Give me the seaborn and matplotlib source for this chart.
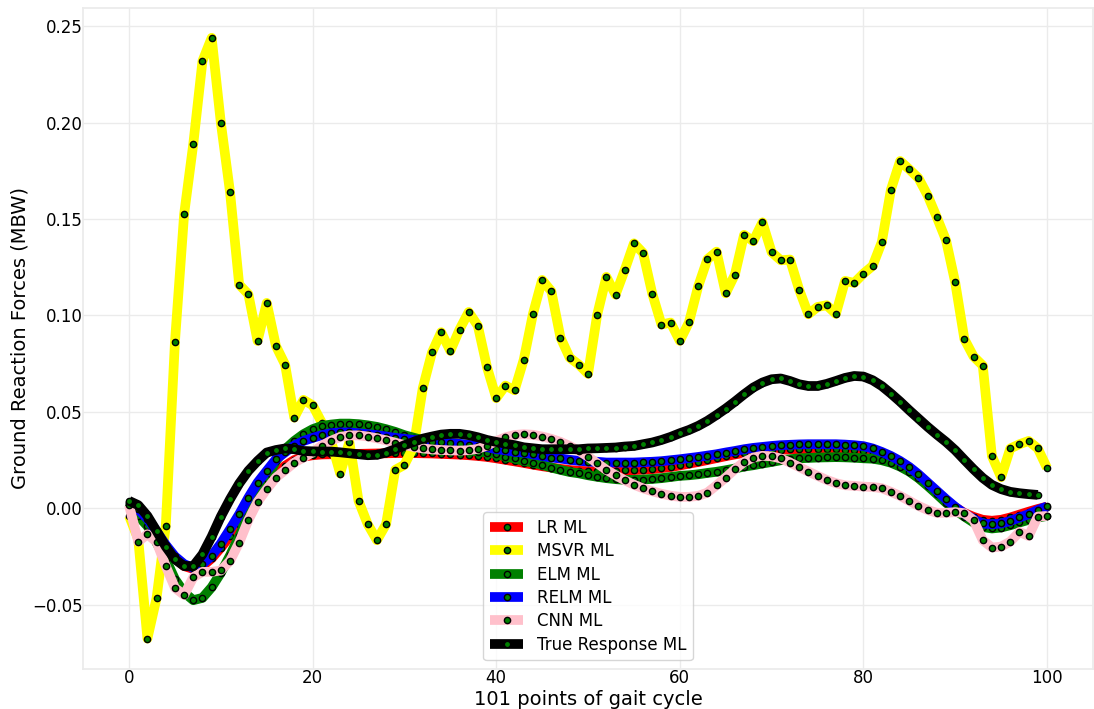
import numpy as np
import pandas as pd
import matplotlib
matplotlib.use("Agg")
import matplotlib.pyplot as plt
import seaborn as sns

gait_points = list(range(101))

lr_ml = [0.002, -0.001, -0.006, -0.0125, -0.0195, -0.026, -0.030, -0.0315, -0.030, -0.026,
         -0.0205, -0.0145, -0.008, -0.001, 0.006, 0.0125, 0.018, 0.022, 0.025, 0.0267,
         0.0275, 0.0279, 0.028, 0.0281, 0.0282, 0.0282, 0.0283, 0.0284, 0.0285, 0.0286,
         0.0286, 0.0286, 0.0285, 0.0284, 0.0282, 0.028, 0.0278, 0.0275, 0.0271, 0.0266,
         0.0259, 0.0251, 0.0243, 0.0235, 0.0226, 0.0218, 0.0211, 0.0204, 0.0198, 0.0194,
         0.0192, 0.0192, 0.0193, 0.0194, 0.0196, 0.0198, 0.0200, 0.0203, 0.0208, 0.0214,
         0.0222, 0.0231, 0.0240, 0.0250, 0.0260, 0.0270, 0.0279, 0.0287, 0.0294, 0.0299,
         0.0302, 0.0304, 0.0305, 0.0306, 0.0306, 0.0306, 0.0306, 0.0305, 0.0304, 0.0300,
         0.0295, 0.0285, 0.0270, 0.0250, 0.0225, 0.0195, 0.0160, 0.0120, 0.0080, 0.0040,
         0.0005, -0.0025, -0.0045, -0.0060, -0.0065, -0.0060, -0.0048, -0.0033, -0.0018, -0.0004,
         0.0008]

msvr_ml = [-0.004, -0.016, -0.0676, -0.0465, -0.0093, 0.0863, 0.1525, 0.189, 0.232, 0.244,
           0.200, 0.164, 0.116, 0.111, 0.0868, 0.1065, 0.0842, 0.0745, 0.047, 0.0562,
           0.0534, 0.0444, 0.035, 0.018, 0.0344, 0.0038, -0.0083, -0.0166, -0.0083, 0.0199,
           0.0225, 0.032, 0.0624, 0.0808, 0.0913, 0.0816, 0.0927, 0.1018, 0.0946, 0.0731,
           0.0571, 0.0636, 0.0612, 0.0771, 0.1008, 0.1184, 0.1126, 0.0885, 0.0781, 0.0745,
           0.0697, 0.1004, 0.1200, 0.1108, 0.1236, 0.1374, 0.1324, 0.1113, 0.0953, 0.0963,
           0.0868, 0.0965, 0.1151, 0.1291, 0.1331, 0.1115, 0.1212, 0.1418, 0.1385, 0.1483,
           0.1328, 0.1286, 0.1290, 0.1134, 0.1006, 0.1044, 0.1053, 0.1008, 0.1179, 0.1169,
           0.1217, 0.1257, 0.1380, 0.1653, 0.1801, 0.1758, 0.1712, 0.1622, 0.1509, 0.1390,
           0.1171, 0.0877, 0.0787, 0.0740, 0.0270, 0.0161, 0.0310, 0.0332, 0.0349, 0.0310,
           0.0209]

elm_ml = [0.003, -0.004, -0.0092, -0.0178, -0.0265, -0.0368, -0.0437, -0.0477, -0.0465, -0.041,
          -0.0335, -0.0245, -0.0145, -0.004, 0.0055, 0.015, 0.0245, 0.0306, 0.0349, 0.0384,
          0.041, 0.0427, 0.0434, 0.0439, 0.0439, 0.0436, 0.043, 0.0422, 0.041, 0.0396,
          0.0379, 0.0366, 0.0353, 0.034, 0.0328, 0.0317, 0.0308, 0.030, 0.0294, 0.0289,
          0.0281, 0.0268, 0.0258, 0.0245, 0.0237, 0.0225, 0.0211, 0.0199, 0.0188, 0.0181,
          0.0171, 0.0163, 0.0156, 0.0151, 0.0147, 0.0147, 0.0149, 0.0152, 0.0156, 0.0162,
          0.0168, 0.0171, 0.0176, 0.0183, 0.0189, 0.0197, 0.0206, 0.0216, 0.0223, 0.0232,
          0.0240, 0.0249, 0.0254, 0.0259, 0.0261, 0.0263, 0.0264, 0.0265, 0.0264, 0.0262,
          0.0259, 0.0257, 0.0249, 0.0236, 0.0216, 0.0190, 0.0156, 0.0116, 0.0073, 0.0029,
          -0.0009, -0.0043, -0.0074, -0.0097, -0.0105, -0.0100, -0.0088, -0.0074, -0.0060, -0.0048,
          -0.0040]

relm_ml = [0.0025, -0.0005, -0.0055, -0.012, -0.019, -0.025, -0.029, -0.031, -0.029, -0.0247,
           -0.0183, -0.0109, -0.0031, 0.0055, 0.0133, 0.0194, 0.0254, 0.029, 0.0325, 0.0349,
           0.0365, 0.0379, 0.0389, 0.0393, 0.0393, 0.0389, 0.0384, 0.0379, 0.0372, 0.0365,
           0.036, 0.0354, 0.0349, 0.0346, 0.0342, 0.0339, 0.0334, 0.0329, 0.0324, 0.0317,
           0.0306, 0.0301, 0.0292, 0.0289, 0.028, 0.0271, 0.0263, 0.0258, 0.0251, 0.0246,
           0.0242, 0.0241, 0.0237, 0.0237, 0.0237, 0.0237, 0.0239, 0.0241, 0.0244, 0.0249,
           0.0254, 0.026, 0.0266, 0.0273, 0.028, 0.0289, 0.0297, 0.0306, 0.0313, 0.0318,
           0.0323, 0.0327, 0.0329, 0.0331, 0.0332, 0.0332, 0.0332, 0.0332, 0.033, 0.0327,
           0.0322, 0.031, 0.0292, 0.0271, 0.0245, 0.0214, 0.0176, 0.0133, 0.009, 0.0047,
           0.0007, -0.0028, -0.0057, -0.0079, -0.0083, -0.0079, -0.0066, -0.0048, -0.0031, -0.0009,
           0.0009]

cnn_ml = [0.0016, -0.0173, -0.0135, -0.0175, -0.030, -0.0413, -0.045, -0.0358, -0.033, -0.033,
          -0.0323, -0.0273, -0.0178, -0.0061, 0.0033, 0.0099, 0.0159, 0.0197, 0.0237, 0.0263,
          0.029, 0.0325, 0.035, 0.037, 0.0378, 0.0378, 0.0372, 0.0363, 0.0352, 0.034,
          0.0328, 0.0318, 0.031, 0.0305, 0.0302, 0.030, 0.0299, 0.0301, 0.0308, 0.0325,
          0.0348, 0.0368, 0.038, 0.0384, 0.0381, 0.0372, 0.036, 0.0344, 0.0323, 0.0297,
          0.0268, 0.0233, 0.0199, 0.0171, 0.0145, 0.0122, 0.0103, 0.0088, 0.0075, 0.0065,
          0.0059, 0.0059, 0.0064, 0.0081, 0.0119, 0.0159, 0.0202, 0.024, 0.0263, 0.0272,
          0.0269, 0.0258, 0.0237, 0.0214, 0.019, 0.0168, 0.0147, 0.013, 0.0119, 0.0116,
          0.0112, 0.011, 0.0104, 0.0085, 0.0064, 0.0038, 0.0012, -0.0009, -0.0024, -0.0024,
          -0.002, -0.0026, -0.0062, -0.0166, -0.0204, -0.0199, -0.0173, -0.0123, -0.0144, -0.0043,
          -0.004]

true_ml = [0.0038, 0.0016, -0.004, -0.0118, -0.0199, -0.0265, -0.030, -0.030, -0.0239, -0.0147,
           -0.0043, 0.0047, 0.0128, 0.0194, 0.0245, 0.0289, 0.0302, 0.031, 0.0306, 0.0297,
           0.0295, 0.0294, 0.0294, 0.029, 0.0285, 0.028, 0.0275, 0.0277, 0.0289, 0.0306,
           0.0327, 0.0344, 0.0361, 0.0372, 0.0382, 0.0386, 0.0386, 0.0379, 0.0368, 0.0354,
           0.0344, 0.0335, 0.0327, 0.0316, 0.0311, 0.0306, 0.0306, 0.0306, 0.0306, 0.0306,
           0.031, 0.0311, 0.0313, 0.0315, 0.032, 0.0323, 0.0332, 0.0341, 0.0354, 0.037,
           0.0389, 0.0406, 0.0427, 0.0453, 0.0484, 0.0517, 0.0553, 0.0591, 0.0626, 0.0652,
           0.0669, 0.0673, 0.066, 0.0643, 0.0634, 0.0634, 0.0645, 0.066, 0.0676, 0.0686,
           0.0683, 0.0664, 0.0634, 0.0595, 0.0553, 0.0508, 0.0465, 0.0422, 0.0382, 0.0344,
           0.0301, 0.0251, 0.0202, 0.0157, 0.0121, 0.0099, 0.0085, 0.0078, 0.0073, 0.0069]

series_names = ["LR ML", "MSVR ML", "ELM ML", "RELM ML", "CNN ML", "True Response ML"]
series_values = [lr_ml, msvr_ml, elm_ml, relm_ml, cnn_ml, true_ml]
series_colors = ["red", "yellow", "green", "blue", "pink", "black"]

sns.set_theme(style="whitegrid")
plt.rcParams['font.family'] = ['DejaVu Sans']
plt.rcParams['text.color'] = 'black'
plt.rcParams['axes.labelcolor'] = 'black'
plt.rcParams['xtick.color'] = 'black'
plt.rcParams['ytick.color'] = 'black'

fig, ax = plt.subplots(figsize=(10.94, 7.09), dpi=100)

for name, vals, col in zip(series_names, series_values, series_colors):
    df = pd.DataFrame({"x": gait_points[:len(vals)], "y": vals})
    sns.lineplot(data=df, x="x", y="y", ax=ax, color=col, linewidth=7,
                 marker="o", markersize=4.5, markerfacecolor="green",
                 markeredgecolor="black", markeredgewidth=1.0, label=name,
                 solid_capstyle="butt")

ax.set_xlabel("101 points of gait cycle", fontsize=14, labelpad=2)
ax.set_ylabel("Ground Reaction Forces (MBW)", fontsize=14, labelpad=2)
ax.tick_params(labelsize=12, length=0, pad=0.5)
ax.set_xticks([0, 20, 40, 60, 80, 100])
ax.set_yticks([-0.05, 0.0, 0.05, 0.10, 0.15, 0.20, 0.25])
ax.yaxis.set_major_formatter(matplotlib.ticker.FuncFormatter(
    lambda v, p: ("\u2212" if v < -1e-9 else "") + "%.2f" % abs(v)))
leg = ax.legend(loc="lower center", fontsize=12, labelspacing=0.32)
for t in leg.get_texts():
    t.set_color("black")

for s in ax.spines.values():
    s.set_color("#ebebeb")
ax.grid(color="#ebebeb")

fig.subplots_adjust(left=0.076, right=0.999, top=0.989, bottom=0.057)
fig.savefig("out.png", dpi=100)
